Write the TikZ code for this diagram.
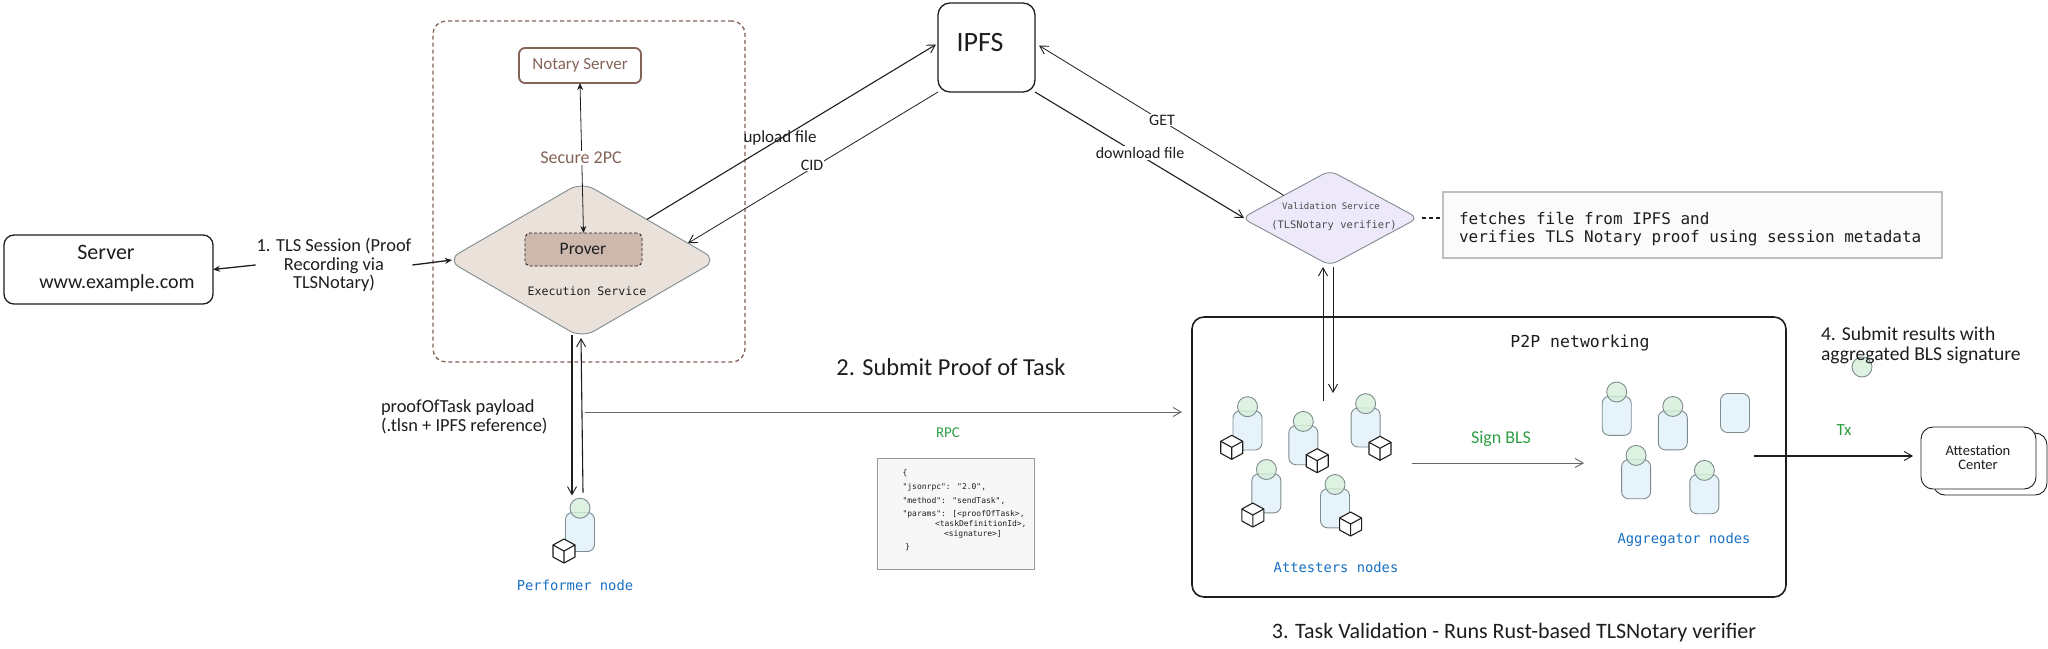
\documentclass[tikz,border=0pt]{standalone}
\usepackage{fontspec}
\setmainfont{Carlito}
\newfontfamily\monof{DejaVu Sans Mono}
\usetikzlibrary{arrows.meta,shapes.geometric,calc}
\definecolor{ink}{HTML}{1E1E1E}
\definecolor{brownline}{HTML}{846358}
\definecolor{execfill}{HTML}{EBE1DB}
\definecolor{proverfill}{HTML}{CDB8AD}
\definecolor{valfill}{HTML}{EDE9FB}
\definecolor{nodeblue}{HTML}{1971C2}
\definecolor{txtgreen}{HTML}{2F9E44}
\definecolor{bodyfill}{HTML}{E7F3FB}
\definecolor{headfill}{HTML}{D5EFD9}
\definecolor{personline}{HTML}{7F8C8D}
\newcommand{\fsz}[1]{\fontsize{#1pt}{#1pt}\selectfont}
\tikzset{
  every node/.style={outer sep=0pt},
  roundbox/.style={draw=ink,line width=1.3pt,rounded corners=10pt,fill=white,inner sep=0pt},
  hand/.style={font=\fsz{#1},text=ink,inner sep=1pt,align=center},
  monolabel/.style={font=\monof\fsz{#1},text=ink,inner sep=0pt},
  bluelabel/.style={font=\monof\fsz{13.8},text=nodeblue,inner sep=0pt},
  greenlabel/.style={font=\fsz{#1},text=txtgreen,inner sep=1pt},
  jsonline/.style={font=\monof\fsz{8},text=ink,inner sep=0pt,anchor=west},
  bodybox/.style={draw=personline,line width=0.9pt,fill=bodyfill,rounded corners=7pt,minimum width=29pt,minimum height=39pt,inner sep=0pt},
  headball/.style={draw=personline,line width=0.9pt,fill=headfill,fill opacity=.8,circle,minimum size=20pt,inner sep=0pt},
  barb/.style={-{Straight Barb[length=8pt,width=9pt,line width=.9pt]},draw=ink,line width=#1},
  solidtip/.style={-{Stealth[length=7pt,width=6pt]},draw=ink,line width=#1},
}
\newcommand{\cubeat}[2]{%
  \begin{scope}[shift={(#1,#2)}]
    \draw[ink,line width=1.1pt,line join=round,fill=white]
      (0,-12) -- (11,-6) -- (11,6) -- (0,12) -- (-11,6) -- (-11,-6) -- cycle;
    \draw[ink,line width=1.1pt,line join=round] (-11,-6) -- (0,0) -- (11,-6) (0,0) -- (0,12);
  \end{scope}}
\newcommand{\personat}[3]{%
  \node[bodybox] (#1) at (#2,#3) {};
  \node[headball] (#1head) at (#2,#3-23.8) {};}
\begin{document}
\begin{tikzpicture}[x=1pt,y=-1pt]
\useasboundingbox (0,0) rectangle (2048,648);
\fill[white] (0,0) rectangle (2048,648);

% enclosure
\node[draw=brownline,line width=1.3pt,dash pattern=on 4pt off 3pt,rounded corners=13pt,minimum width=312pt,minimum height=341pt] (enclave) at (589,191.5) {};

% primary shapes
\node[roundbox,draw=brownline,line width=1.8pt,rounded corners=6pt,minimum width=122pt,minimum height=35pt] (notary) at (580,65.5) {};
\node[diamond,draw=personline,line width=.9pt,fill=execfill,rounded corners=14pt,minimum width=270pt,minimum height=156pt,inner sep=0pt] (exec) at (582,260) {};
\node[draw=ink,line width=.9pt,dash pattern=on 3pt off 2pt,fill=proverfill,rounded corners=5pt,minimum width=117pt,minimum height=33pt,inner sep=0pt] (prover) at (583.5,249.5) {};
\node[roundbox,minimum width=209pt,minimum height=69pt] (server) at (108.5,269.5) {};
\node[roundbox,rounded corners=12pt,minimum width=97pt,minimum height=89pt] (ipfs) at (986.5,47.5) {};
\node[diamond,draw=personline,line width=.9pt,fill=valfill,rounded corners=8pt,minimum width=176pt,minimum height=95pt,inner sep=0pt] (val) at (1330,218) {};
\node[draw=black!25,line width=1.1pt,fill=black!1.5,minimum width=499pt,minimum height=66pt,inner sep=0pt] (note) at (1692.5,225) {};
\node[roundbox,line width=1.6pt,rounded corners=12pt,minimum width=594pt,minimum height=280pt,fill=none] (p2p) at (1489,457) {};
\node[draw=black!40,line width=1pt,fill=black!3,minimum width=157pt,minimum height=111pt,inner sep=0pt] (json) at (955.5,513.5) {};
\node[roundbox,line width=.9pt,rounded corners=12pt,minimum width=114pt,minimum height=62pt] (attback) at (1990,464) {};
\node[roundbox,line width=.9pt,rounded corners=12pt,minimum width=115pt,minimum height=62pt] (att) at (1978.5,458) {};

% labels that interrupt connectors need to exist first
\node[hand=18.4,minimum width=153pt] (tls) at (334,265) {1. TLS Session (Proof\\[0pt]Recording via\\[0pt]TLSNotary)};

% connectors
\draw[solidtip=.8pt,{Stealth[length=7pt,width=6pt]}-{Stealth[length=7pt,width=6pt]}] (notary.south) -- (prover.north);
\draw[solidtip=1.3pt] (tls.west) -- (server.east);
\draw[solidtip=1.3pt] (tls.east) -- ([xshift=5pt]exec.west);
\draw[barb=1.1pt] (exec.32) -- ([xshift=-2pt,yshift=3pt]ipfs.west);
\draw[barb=.8pt] (ipfs.south west) -- (exec.9);
\draw[barb=.8pt] (val.154) -- ([xshift=4pt,yshift=2pt]ipfs.east);
\draw[barb=1.1pt] (ipfs.south east) -- ([xshift=2pt]val.west);
\draw[ink,line width=1.6pt,dash pattern=on 4pt off 3pt,shorten <=4pt,shorten >=3pt] (val.east) -- (val.east -| note.west);

\coordinate (vup) at (1323,401);
\coordinate (vdown) at (1333,393);
\draw[barb=.9pt] (vup) -- (vup |- 0,267);
\draw[barb=.9pt] (vdown |- 0,267) -- (vdown);

% persons
\personat{perf}{580}{532}
\cubeat{564}{551}
\personat{a1}{1247.5}{430.5}\cubeat{1231.7}{447.3}
\personat{a2}{1303.3}{445.2}\cubeat{1317.2}{460.7}
\personat{a3}{1365.6}{427.5}\cubeat{1380}{448.3}
\personat{a4}{1266.4}{493.3}\cubeat{1252.8}{515}
\personat{a5}{1335}{508.3}\cubeat{1350.6}{524}
\personat{g1}{1616.7}{415.8}
\personat{g2}{1672.8}{430.3}
\node[bodybox] (g3) at (1735,413) {};
\personat{g4}{1636.1}{479.2}
\personat{g5}{1704.4}{494.2}
\node[headball] (strayhead) at (1862,367) {};

% more connectors
\draw[barb=1.1pt] ([xshift=-10pt,yshift=3pt]exec.south) -- ([xshift=-8pt,yshift=17pt]perf.north);
\draw[barb=1.1pt] ([xshift=3pt,yshift=20pt]perf.north) -- ([xshift=-1pt]exec.south);
\coordinate (subm) at (585,412);
\draw[barb=.9pt,draw=black!60] (subm) -- ([xshift=-10pt]p2p.west |- subm);
\coordinate (signa) at (1412,463);
\coordinate (signb) at (1584,463);
\draw[barb=1pt,draw=black!60] (signa) -- (signb);
\coordinate (txa) at (1754,456);
\draw[barb=1.2pt] (txa) -- ([xshift=-8pt]att.west |- txa);

% box texts
\node[font=\fsz{17},text=brownline,inner sep=0pt] (notarytext) at (580,65) {Notary Server};
\node[hand=18,fill=white] (secure) at (581,158) {\textcolor{brownline}{Secure 2PC}};
\node[hand=17.5] (provertext) at (583,249) {Prover};
\node[monolabel=11.6] (exectext) at (587,291) {Execution Service};
\node[hand=22] (servertext) at (106,252) {Server};
\node[hand=20] (wwwtext) at (117,283) {www.example.com};
\node[hand=28] (ipfstext) at (980,43) {IPFS};
\node[hand=17] (upload) at (780,138) {upload file};
\node[hand=16,fill=white] (cid) at (812,165) {CID};
\node[hand=16,fill=white] (get) at (1162,120) {GET};
\node[hand=16,fill=white] (download) at (1140,153) {download file};
\node[monolabel=9,text=ink!80] (valtext) at (1331,206) {Validation Service};
\node[monolabel=10.4,text=ink!80] (veriftext) at (1334,226) {(TLSNotary verifier)};
\node[monolabel=16,anchor=west] (note1) at (1459,218) {fetches file from IPFS and};
\node[monolabel=16,anchor=west] (note2) at (1459,238) {verifies TLS Notary proof using session metadata};
\node[monolabel=16.5] (p2ptext) at (1580,343) {P2P networking};
\node[bluelabel] (perftext) at (575,585) {Performer node};
\node[bluelabel] (atttext) at (1336,567) {Attesters nodes};
\node[bluelabel] (aggtext) at (1684,540) {Aggregator nodes};
\node[hand=18.4,align=left,anchor=west] (payload) at (380,417) {proofOfTask payload\\[0pt](.tlsn + IPFS reference)};
\node[hand=24.4] (submit) at (951,367) {2. Submit Proof of Task};
\node[greenlabel=15] (rpc) at (948,433) {RPC};
\node[greenlabel=18] (sign) at (1501,439) {Sign BLS};
\node[greenlabel=17] (tx) at (1844,430) {Tx};
\node[hand=14.5] (atta) at (1978,451) {Attestation};
\node[hand=14.5] (attb) at (1978,465) {Center};
\node[hand=19.6,anchor=west] (res1) at (1820,334) {4. Submit results with};
\node[hand=19.6,anchor=west] (res2) at (1820,355) {aggregated BLS signature};
\node[hand=22] (task3) at (1514,633) {3. Task Validation - Runs Rust-based TLSNotary verifier};

% json
\node[jsonline] (j1) at (902.6,473) {\{};
\node[jsonline] (j2) at (902.6,487) {"jsonrpc": "2.0",};
\node[jsonline] (j3) at (902.6,501) {"method": "sendTask",};
\node[jsonline] (j4) at (902.6,514) {"params": [<proofOfTask>,};
\node[jsonline] (j5) at (935,524) {<taskDefinitionId>,};
\node[jsonline] (j6) at (944,534) {<signature>]};
\node[jsonline] (j7) at (905,547) {\}};
\end{tikzpicture}
\end{document}
